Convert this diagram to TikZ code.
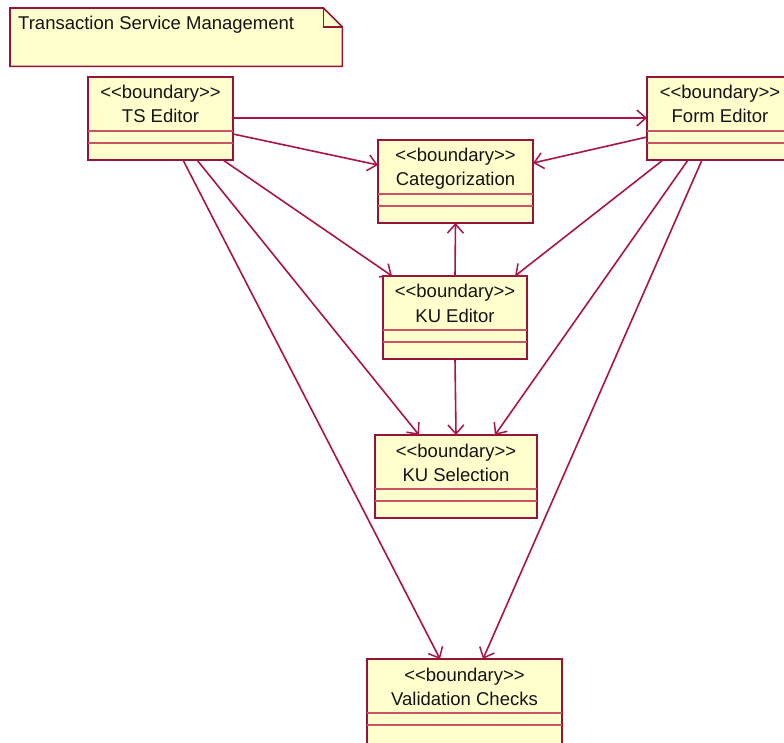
\documentclass[tikz,border=0pt]{standalone}
\usepackage{fontspec}
\newfontfamily\umlfont{Liberation Sans}
\usetikzlibrary{arrows.meta,calc}
\definecolor{umlfill}{RGB}{255,255,206}
\definecolor{umlborder}{RGB}{150,20,55}
\definecolor{umlline}{RGB}{168,22,72}
\definecolor{umlsep}{RGB}{200,85,100}

% \umlclass[extra options]{name}{centre x}{top y}{width}{class name}
\newcommand\umlclass[6][]{%
  \node[cls, minimum width=#5, anchor=north, #1] (#2) at (#3,#4) {};
  \node[lbl, anchor=base] (#2-s) at ($(#2.north)+(0,22)$) {<<boundary>>};
  \node[lbl, anchor=base] (#2-n) at ($(#2.north)+(0,46)$) {#6};
  \draw[sepline] ($(#2.north west)+(0,54)$) -- ($(#2.north east)+(0,54)$);
  \draw[sepline, line width=2pt] ($(#2.north west)+(0,66)$) -- ($(#2.north east)+(0,66)$);
}

\begin{document}
\begin{tikzpicture}[x=1pt,y=-1pt,
  cls/.style={draw=umlborder, line width=1.8pt, fill=umlfill, minimum height=83pt,
    inner sep=0pt, outer sep=0pt},
  lbl/.style={font=\umlfont\fontsize{18.5}{22}\selectfont, inner sep=0pt, text=black!92},
  sepline/.style={draw=umlsep, line width=1.5pt},
  notebox/.style={draw=umlborder, line width=1.6pt, fill=umlfill},
  dep/.style={draw=umlline, line width=1.6pt,
    -{Straight Barb[length=9pt,width=16pt,line width=1.5pt]}}
]
\clip (0,0) rectangle (784,743);
\fill[white] (0,0) rectangle (784,743);

% package note with folded corner
\node[inner sep=0pt, minimum width=332, minimum height=58, anchor=north west] (note) at (10,8) {};
\draw[notebox] (note.north west) -- ($(note.north east)+(-19,0)$) coordinate (f1)
  -- ($(note.north east)+(0,19)$) coordinate (f2) -- (note.south east)
  -- (note.south west) -- cycle;
\draw[notebox, fill=none] (f1) |- (f2);
\node[lbl, anchor=base west] (note-t) at (18,30) {Transaction Service Management};

% boundary classes
\umlclass{ts}{160.5}{77}{145}{TS Editor}
\umlclass{fe}{720}{77}{146}{Form Editor}
\umlclass{cat}{455.5}{140}{155}{Categorization}
\umlclass{kue}{455}{276}{144}{KU Editor}
\umlclass{kus}{456}{435}{162}{KU Selection}
\umlclass[minimum height=92pt]{vc}{464.5}{659}{195}{Validation Checks}

% dependencies
\draw[dep] ($(ts.north east)+(0,41)$) -- ($(fe.north west)+(0,41)$);
\draw[dep] ($(ts.north east)+(0,57)$) -- ($(cat.north west)+(0,25)$);
\draw[dep] ($(fe.north west)+(0,60)$) -- ($(cat.north east)+(0,23)$);
\draw[dep] ($(ts.south west)+(135,0)$) -- ($(kue.north west)+(9,0)$);
\draw[dep] ($(fe.south west)+(16,0)$) -- ($(kue.north east)+(-12,0)$);
\draw[dep] (kue.north) -- (cat.south);
\draw[dep] (kue.south) -- (kus.north);
\draw[dep] ($(ts.south west)+(109,0)$) -- ($(kus.north west)+(44,0)$);
\draw[dep] ($(fe.south west)+(41,0)$) -- ($(kus.north west)+(120,0)$);
\draw[dep] ($(ts.south west)+(95,0)$) -- ($(vc.north west)+(73,0)$);
\draw[dep] ($(fe.south west)+(55,0)$) -- ($(vc.north west)+(116,0)$);
\end{tikzpicture}
\end{document}
